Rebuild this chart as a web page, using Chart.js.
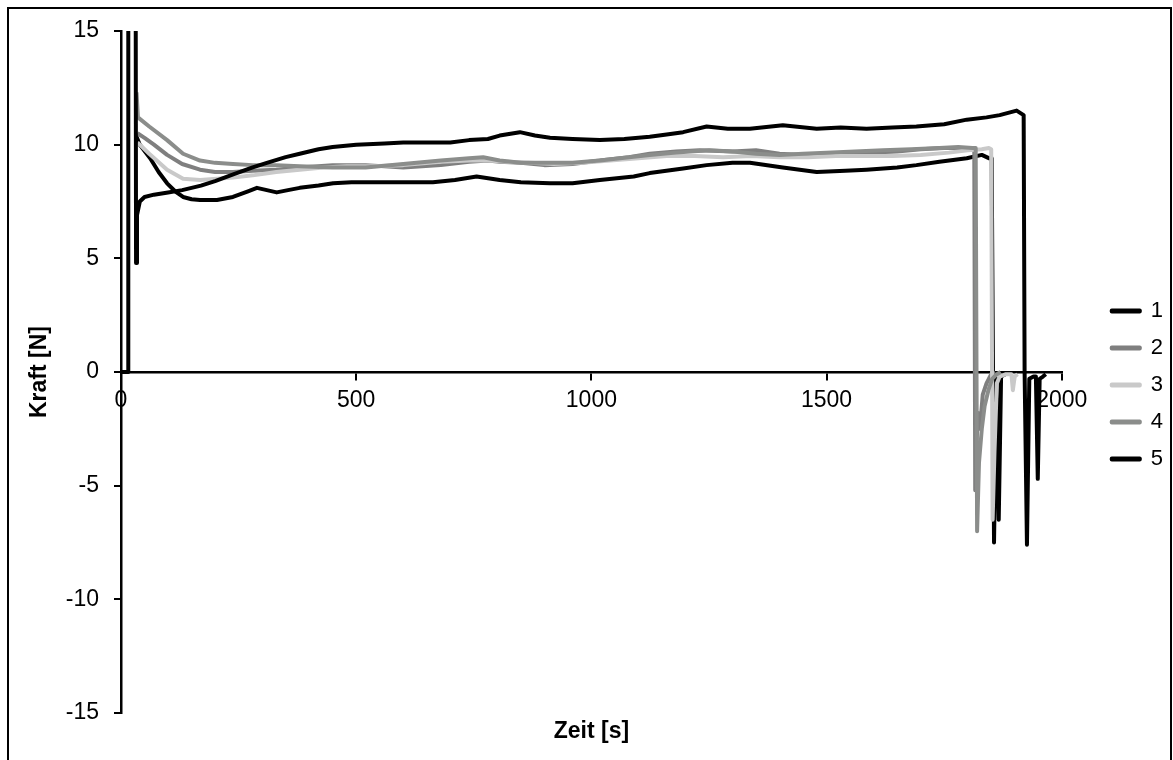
<!DOCTYPE html>
<html>
<head>
<meta charset="utf-8">
<script src="https://cdn.jsdelivr.net/npm/chart.js@4.4.1/dist/chart.umd.min.js"></script>
<style>
    body { margin: 0; background: #fff; }
    #wrap { position: relative; width: 1173px; height: 760px; overflow: hidden; }
    #frame { position: absolute; left: 7px; top: 7px; width: 1161px; height: 800px; border: 2px solid #000; pointer-events: none; }
</style>
</head>
<body>
<div id="wrap"><canvas id="myChart"></canvas><div id="frame"></div></div>
<script>
// Series 1 (black, falls to ~7.6 then climbs slowly)
const time1 = [32, 40, 62, 80, 98, 115, 132, 150, 168, 204, 238, 270, 289, 310, 331, 355, 380, 420, 451, 490, 522, 560, 600, 663, 710, 756, 805, 850, 912, 960, 1018, 1090, 1124, 1195, 1245, 1300, 1337, 1407, 1479, 1540, 1585, 1650, 1691, 1740, 1798, 1830, 1846, 1851, 1856, 1861, 1866, 1871, 1880];
const force1 = [10.4, 10.0, 9.4, 8.8, 8.3, 7.95, 7.7, 7.6, 7.57, 7.57, 7.7, 7.95, 8.1, 8.0, 7.9, 8.0, 8.1, 8.2, 8.3, 8.35, 8.35, 8.35, 8.35, 8.35, 8.45, 8.6, 8.45, 8.35, 8.3, 8.3, 8.45, 8.6, 8.75, 8.95, 9.1, 9.2, 9.2, 9.0, 8.8, 8.85, 8.9, 9.0, 9.1, 9.25, 9.4, 9.55, 9.4, 9.4, -7.5, -0.3, -6.5, -0.2, -0.1];

// Series 2 (grey)
const time2 = [35, 50, 70, 98, 130, 168, 200, 238, 280, 330, 380, 450, 520, 600, 680, 740, 780, 805, 850, 900, 960, 1018, 1080, 1124, 1180, 1230, 1300, 1350, 1400, 1450, 1500, 1550, 1600, 1650, 1700, 1750, 1800, 1814, 1816, 1819, 1822, 1826, 1832, 1840, 1850, 1858];
const force2 = [10.5, 10.3, 10.0, 9.55, 9.15, 8.9, 8.8, 8.8, 8.85, 8.9, 9.0, 9.1, 9.1, 9.0, 9.1, 9.25, 9.3, 9.25, 9.2, 9.1, 9.15, 9.3, 9.45, 9.6, 9.7, 9.75, 9.7, 9.75, 9.6, 9.55, 9.55, 9.6, 9.65, 9.7, 9.8, 9.85, 9.85, 9.85, -5.2, -3.0, -1.8, -2.5, -1.0, -0.5, -0.1, 0];

// Series 3 (light grey)
const time3 = [35, 60, 98, 132, 168, 204, 238, 280, 330, 380, 430, 480, 530, 600, 680, 740, 780, 820, 870, 920, 980, 1040, 1100, 1160, 1220, 1280, 1340, 1400, 1460, 1520, 1580, 1640, 1700, 1760, 1800, 1830, 1845, 1850, 1853, 1857, 1862, 1868, 1880, 1893, 1896, 1900, 1906];
const force3 = [10.1, 9.6, 8.9, 8.5, 8.45, 8.5, 8.55, 8.65, 8.8, 8.9, 9.0, 9.05, 9.05, 9.1, 9.25, 9.3, 9.3, 9.25, 9.2, 9.15, 9.2, 9.3, 9.4, 9.5, 9.5, 9.45, 9.5, 9.45, 9.45, 9.5, 9.5, 9.5, 9.55, 9.65, 9.75, 9.8, 9.85, 9.8, -6.5, -3.5, -0.5, -0.2, -0.1, -0.1, -0.8, -0.2, -0.1];

// Series 4 (grey, highest start)
const time4 = [33, 36, 60, 98, 132, 168, 200, 238, 280, 330, 380, 450, 520, 600, 680, 740, 770, 805, 850, 900, 960, 1018, 1080, 1124, 1180, 1250, 1300, 1350, 1400, 1450, 1500, 1560, 1620, 1680, 1740, 1780, 1810, 1817, 1820, 1824, 1830, 1836, 1844, 1852, 1862, 1870];
const force4 = [12.3, 11.2, 10.8, 10.2, 9.6, 9.3, 9.2, 9.15, 9.1, 9.1, 9.05, 9.0, 9.0, 9.15, 9.3, 9.4, 9.45, 9.3, 9.2, 9.2, 9.2, 9.3, 9.45, 9.55, 9.65, 9.75, 9.7, 9.6, 9.55, 9.6, 9.65, 9.7, 9.75, 9.8, 9.85, 9.9, 9.85, 9.85, -7.0, -4.0, -2.5, -1.5, -0.8, -0.3, -0.1, 0];

// Series 5 (black, climbs to ~11.4, longest run)
const time5 = [0, 15, 15.5, 31, 32, 34, 40, 50, 70, 100, 130, 170, 200, 240, 280, 310, 350, 380, 420, 450, 500, 560, 600, 650, 700, 740, 780, 805, 848, 880, 912, 960, 1018, 1070, 1124, 1160, 1195, 1245, 1290, 1337, 1407, 1479, 1530, 1585, 1640, 1691, 1750, 1798, 1840, 1868, 1904, 1919, 1921, 1926, 1931, 1940, 1945, 1949, 1953, 1960, 1966];
const force5 = [0, 0, 20, 20, 4.8, 6.9, 7.5, 7.7, 7.8, 7.9, 8.0, 8.2, 8.4, 8.7, 9.0, 9.2, 9.45, 9.6, 9.8, 9.9, 10.0, 10.05, 10.1, 10.1, 10.1, 10.2, 10.25, 10.4, 10.55, 10.4, 10.3, 10.25, 10.2, 10.25, 10.35, 10.45, 10.55, 10.8, 10.7, 10.7, 10.85, 10.7, 10.75, 10.7, 10.75, 10.8, 10.9, 11.1, 11.2, 11.3, 11.5, 11.3, 0, -7.6, -0.3, -0.2, -0.2, -4.7, -0.3, -0.2, -0.1];

const seriesLabels = ['1', '2', '3', '4', '5'];
const seriesColors = ['#000000', '#7f7f7f', '#c9c9c9', '#8b8d8b', '#000000'];

const xTicks = { min: 0, max: 2000, step: 500 };
const yTicks = { min: -15, max: 15, step: 5 };

function toPoints(times, forces) {
    return times.map((t, i) => ({ x: t, y: forces[i] }));
}

document.addEventListener('DOMContentLoaded', () => {
    Chart.defaults.font.family = "'Liberation Sans', Arial, sans-serif";
    Chart.defaults.color = '#000';

    const allTimes = [time1, time2, time3, time4, time5];
    const allForces = [force1, force2, force3, force4, force5];

    const datasets = seriesLabels.map((label, i) => ({
        label: label,
        data: toPoints(allTimes[i], allForces[i]),
        borderColor: seriesColors[i],
        backgroundColor: seriesColors[i],
        borderWidth: 4,
        pointRadius: 0,
        tension: 0,
        borderJoinStyle: 'round',
        fill: false,
        order: 5 - i // Excel draws series 5 on top
    }));

    const plainNumber = (value) => String(value);

    const ctx = document.getElementById('myChart').getContext('2d');
    new Chart(ctx, {
        type: 'line',
        data: { datasets: datasets },
        options: {
            responsive: true,
            maintainAspectRatio: false,
            animation: false,
            layout: { padding: { left: 10, top: 31, right: 0, bottom: 21 } },
            plugins: {
                legend: {
                    position: 'right',
                    align: 'center',
                    labels: {
                        boxWidth: 28,
                        boxHeight: 1,
                        padding: 15,
                        color: '#000',
                        font: { size: 22 },
                        sort: (a, b) => a.datasetIndex - b.datasetIndex
                    }
                },
                tooltip: { enabled: false }
            },
            scales: {
                x: {
                    type: 'linear',
                    position: { y: 0 },
                    min: xTicks.min,
                    max: xTicks.max,
                    ticks: { stepSize: xTicks.step, padding: 8, font: { size: 23 }, color: '#000', maxRotation: 0, autoSkip: false, callback: plainNumber },
                    grid: { drawOnChartArea: false, tickLength: 7, color: '#000', lineWidth: 2 },
                    border: { color: '#000', width: 2.5 }
                },
                xt: {
                    type: 'linear',
                    position: 'bottom',
                    min: 0,
                    max: 1,
                    ticks: { display: false },
                    grid: { display: false, drawTicks: false },
                    border: { display: false },
                    title: { display: true, text: 'Zeit [s]', color: '#000', font: { size: 23, weight: 'bold' }, padding: { top: 5.2, bottom: -6.8 } }
                },
                y: {
                    type: 'linear',
                    position: 'left',
                    min: yTicks.min,
                    max: yTicks.max,
                    ticks: { stepSize: yTicks.step, padding: 15, font: { size: 23 }, color: '#000', callback: plainNumber },
                    grid: { drawOnChartArea: false, tickLength: 7, color: '#000', lineWidth: 2 },
                    border: { color: '#000', width: 2.5 },
                    title: { display: true, text: 'Kraft [N]', color: '#000', font: { size: 23, weight: 'bold' }, padding: { top: 16.2, bottom: 0 } },
                    afterFit: (scale) => { scale.width = 111; }
                },
                yr: {
                    type: 'linear',
                    position: 'right',
                    display: true,
                    ticks: { display: false },
                    grid: { display: false, drawTicks: false },
                    border: { display: false },
                    afterFit: (scale) => { scale.width = 35; }
                }
            }
        }
    });
});
</script>
</body>
</html>
